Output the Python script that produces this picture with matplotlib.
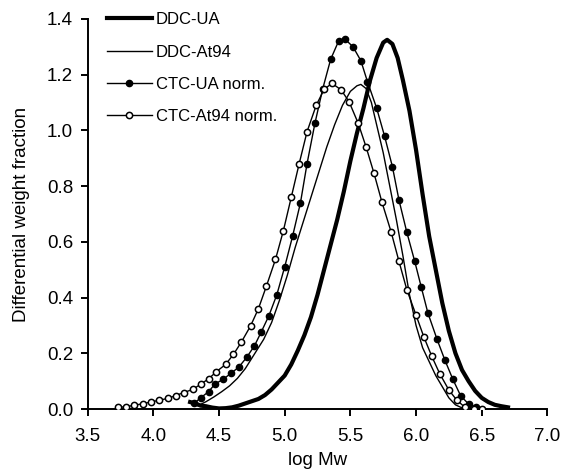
import matplotlib
matplotlib.use("Agg")
import matplotlib.pyplot as plt

plt.rcParams['font.family'] = ['Liberation Sans', 'DejaVu Sans']

# DDC-UA (thick line)
ddc_ua_x = [4.28, 4.32, 4.36, 4.40, 4.45, 4.50, 4.55, 4.60, 4.65, 4.70, 4.75, 4.80,
            4.85, 4.90, 4.95, 5.00, 5.05, 5.10, 5.15, 5.20, 5.25, 5.30, 5.35, 5.40,
            5.45, 5.50, 5.55, 5.60, 5.65, 5.70, 5.75, 5.78, 5.82, 5.86, 5.90, 5.95,
            6.00, 6.05, 6.10, 6.15, 6.20, 6.25, 6.30, 6.35, 6.40, 6.45, 6.50, 6.55,
            6.60, 6.65, 6.70]
ddc_ua_y = [0.025, 0.020, 0.012, 0.010, 0.005, 0.002, 0.003, 0.006, 0.012, 0.020, 0.028, 0.036,
            0.050, 0.070, 0.095, 0.120, 0.160, 0.210, 0.265, 0.330, 0.410, 0.500, 0.590, 0.680,
            0.780, 0.890, 0.990, 1.080, 1.180, 1.260, 1.315, 1.325, 1.310, 1.260, 1.180, 1.070,
            0.930, 0.770, 0.620, 0.500, 0.380, 0.280, 0.200, 0.140, 0.100, 0.065, 0.040, 0.025,
            0.015, 0.010, 0.006]

# DDC-At94 (thin line)
ddc_at_x = [4.34, 4.40, 4.46, 4.52, 4.58, 4.64, 4.70, 4.76, 4.84, 4.90, 4.96, 5.02,
            5.08, 5.14, 5.20, 5.26, 5.32, 5.38, 5.44, 5.50, 5.55, 5.58, 5.62, 5.66,
            5.70, 5.75, 5.80, 5.85, 5.90, 5.95, 6.00, 6.05, 6.10, 6.15, 6.20, 6.25,
            6.30, 6.35]
ddc_at_y = [0.012, 0.026, 0.043, 0.062, 0.083, 0.110, 0.145, 0.190, 0.250, 0.310, 0.390, 0.480,
            0.580, 0.670, 0.760, 0.850, 0.940, 1.020, 1.090, 1.140, 1.160, 1.165, 1.150, 1.100,
            1.020, 0.920, 0.800, 0.680, 0.550, 0.410, 0.300, 0.220, 0.170, 0.120, 0.080, 0.040,
            0.015, 0.004]

# CTC-UA norm. (filled circles)
ctc_ua_x = [4.31, 4.36, 4.42, 4.47, 4.53, 4.59, 4.65, 4.71, 4.77, 4.82, 4.88, 4.94,
            5.00, 5.06, 5.12, 5.17, 5.23, 5.29, 5.35, 5.41, 5.46, 5.52, 5.58, 5.63,
            5.70, 5.76, 5.82, 5.87, 5.93, 5.99, 6.04, 6.09, 6.16, 6.22, 6.28, 6.34,
            6.40, 6.46]
ctc_ua_y = [0.020, 0.040, 0.062, 0.090, 0.106, 0.128, 0.150, 0.185, 0.227, 0.275, 0.335, 0.410,
            0.510, 0.620, 0.740, 0.880, 1.025, 1.150, 1.255, 1.320, 1.327, 1.300, 1.250, 1.175,
            1.080, 0.980, 0.870, 0.750, 0.634, 0.530, 0.437, 0.345, 0.250, 0.175, 0.107, 0.047,
            0.018, 0.006]

# CTC-At94 norm. (open circles)
ctc_at_x = [3.73, 3.79, 3.85, 3.92, 3.98, 4.04, 4.11, 4.17, 4.23, 4.30, 4.36, 4.42,
            4.48, 4.55, 4.61, 4.67, 4.74, 4.80, 4.86, 4.93, 4.99, 5.05, 5.11, 5.17,
            5.24, 5.30, 5.36, 5.43, 5.49, 5.56, 5.62, 5.68, 5.74, 5.81, 5.87, 5.93,
            6.00, 6.06, 6.12, 6.18, 6.25, 6.31, 6.37, 6.44, 6.50]
ctc_at_y = [0.006, 0.008, 0.013, 0.019, 0.025, 0.031, 0.038, 0.048, 0.059, 0.070, 0.089, 0.108,
            0.134, 0.160, 0.196, 0.240, 0.298, 0.360, 0.440, 0.537, 0.640, 0.760, 0.880, 0.995,
            1.090, 1.147, 1.169, 1.145, 1.103, 1.025, 0.940, 0.846, 0.743, 0.636, 0.530, 0.428,
            0.337, 0.258, 0.189, 0.127, 0.068, 0.032, 0.007, 0.001, 0.000]

x_ticks = [3.5, 4.0, 4.5, 5.0, 5.5, 6.0, 6.5, 7.0]
y_ticks = [0.0, 0.2, 0.4, 0.6, 0.8, 1.0, 1.2, 1.4]

fig = plt.figure(figsize=(5.62, 4.73), dpi=100)
ax = fig.add_axes([0.156, 0.1353, 0.818, 0.8247])

ax.plot(ddc_ua_x, ddc_ua_y, color='black', lw=3.0, label='DDC-UA', zorder=3)
ax.plot(ddc_at_x, ddc_at_y, color='black', lw=1.0, label='DDC-At94', zorder=3)
ax.plot(ctc_ua_x, ctc_ua_y, color='black', lw=1.0, marker='o', ms=4.5,
        mfc='black', mec='black', label='CTC-UA norm.', zorder=4)
ax.plot(ctc_at_x, ctc_at_y, color='black', lw=1.0, marker='o', ms=4.5,
        mfc='white', mec='black', mew=1.1, label='CTC-At94 norm.', zorder=4)

ax.set_xlim(3.5, 7.0)
ax.set_ylim(0.0, 1.4)
ax.set_xticks(x_ticks)
ax.set_yticks(y_ticks)
ax.set_xticklabels([f'{v:.1f}' for v in x_ticks])
ax.set_yticklabels([f'{v:.1f}' for v in y_ticks])

for side in ('top', 'right'):
    ax.spines[side].set_visible(False)
for side in ('left', 'bottom'):
    ax.spines[side].set_linewidth(1.4)
ax.tick_params(direction='out', length=5, width=1.4, labelsize=13.5)
ax.tick_params(axis='y', pad=5.5)
ax.tick_params(axis='x', pad=9)

ax.set_xlabel('log Mw', fontsize=13.5, labelpad=5)
ax.set_ylabel('Differential weight fraction', fontsize=13.5, labelpad=12)

leg = ax.legend(loc='upper left', bbox_to_anchor=(0.19, 0.974), bbox_transform=fig.transFigure,
                frameon=False, fontsize=12, handlelength=2.7, handletextpad=0.25,
                labelspacing=1.04, borderaxespad=0.0, borderpad=0.0, markerscale=1.0)

fig.savefig('out.png', dpi=100)
